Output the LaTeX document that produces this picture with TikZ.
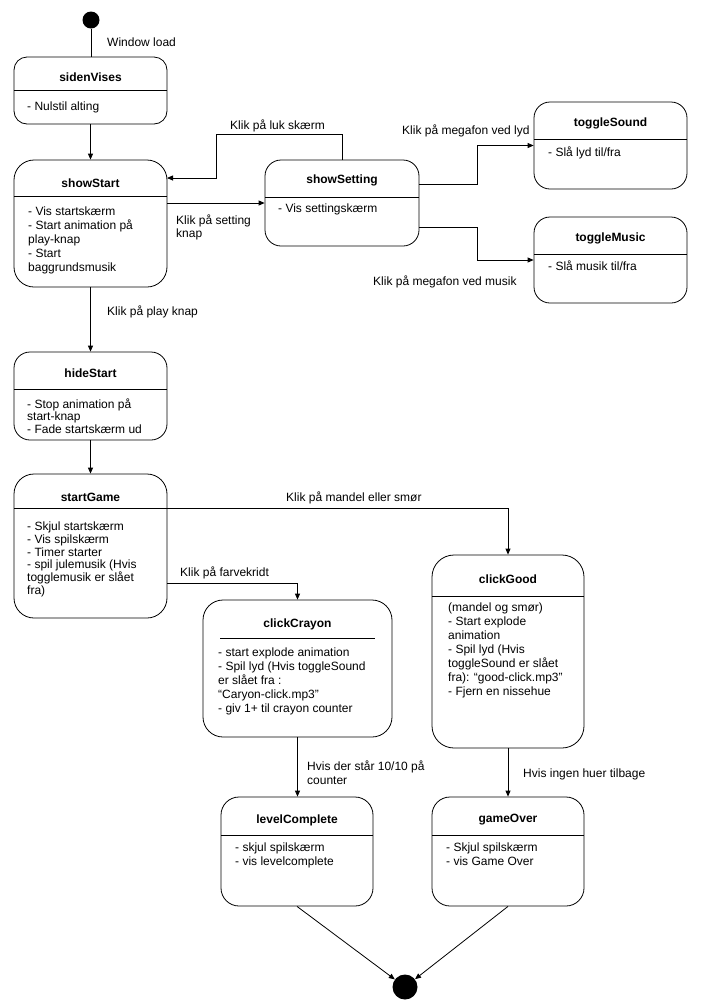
\documentclass[tikz,border=0pt]{standalone}
\usepackage{fontspec}
\setmainfont{Liberation Sans}
\usetikzlibrary{arrows.meta}
\begin{document}
\begin{tikzpicture}[x=1pt,y=-1pt,
  every node/.style={font=\fontsize{12}{14}\selectfont},
  box/.style={draw, line width=0.8pt, rounded corners=16pt, inner sep=0pt},
  ttl/.style={font=\fontsize{12}{14}\selectfont\bfseries, inner sep=0pt},
  bdy/.style={align=left, inner sep=0pt, anchor=north west},
  lbl/.style={inner sep=0pt, anchor=base west},
  mlbl/.style={inner sep=0pt, anchor=north west, align=left},
  arr/.style={line width=0.8pt, -{Triangle[length=6pt,width=5pt]}},
  ln/.style={line width=0.8pt},
  dot/.style={circle, fill=black, inner sep=0pt}]
\useasboundingbox (0,0) rectangle (703,1005);

% start dot
\node[dot, minimum size=17pt] (sd) at (91,20) {};

% sidenVises
\node[box, minimum width=153pt, minimum height=67pt, rounded corners=13pt] (sv) at (90.5,90.5) {};
\draw[ln] (14,90) -- (167,90);
\node[ttl] (svt) at (90.5,77) {sidenVises};
\node[bdy] (svb) at (27,101.5) {- Nulstil alting};

% showStart
\node[box, minimum width=153pt, minimum height=127pt, rounded corners=20pt] (ss) at (90.5,223.5) {};
\draw[ln] (14,196) -- (167,196);
\node[ttl] (sst) at (90.5,183) {showStart};
\node[bdy, font=\fontsize{12}{14}\selectfont] (ssb) at (28,206.5) {- Vis startskærm\\- Start animation på\\play-knap\\- Start\\baggrundsmusik};

% showSetting
\node[box, minimum width=154pt, minimum height=86pt] (st) at (342,203) {};
\draw[ln] (265,197) -- (419,197);
\node[ttl] (stt) at (342,180) {showSetting};
\node[bdy] (stb) at (278,203.5) {- Vis settingskærm};

% toggleSound
\node[box, minimum width=153pt, minimum height=87pt] (ts) at (610.5,145.5) {};
\draw[ln] (534,139) -- (687,139);
\node[ttl] (tst) at (610.5,123) {toggleSound};
\node[bdy] (tsb) at (548,146.5) {- Slå lyd til/fra};

% toggleMusic
\node[box, minimum width=153pt, minimum height=86pt] (tm) at (610.5,260) {};
\draw[ln] (534,254) -- (687,254);
\node[ttl] (tmt) at (610.5,238) {toggleMusic};
\node[bdy] (tmb) at (548,260.5) {- Slå musik til/fra};

% hideStart
\node[box, minimum width=153pt, minimum height=88pt] (hs) at (90.5,396) {};
\draw[ln] (14,389) -- (167,389);
\node[ttl] (hst) at (90.5,373) {hideStart};
\node[bdy, font=\fontsize{12}{12.4}\selectfont] (hsb) at (27,398.5) {- Stop animation på\\start-knap\\- Fade startskærm ud};

% startGame
\node[box, minimum width=153pt, minimum height=144pt, rounded corners=20pt] (sg) at (90.5,546) {};
\draw[ln] (14,508) -- (167,508);
\node[ttl] (sgt) at (90.5,497) {startGame};
\node[bdy, font=\fontsize{12}{12.8}\selectfont] (sgb) at (27,521.5) {- Skjul startskærm\\- Vis spilskærm\\- Timer starter\\- spil julemusik (Hvis\\togglemusik er slået\\fra)};

% clickCrayon
\node[box, minimum width=189pt, minimum height=137pt, rounded corners=20pt] (cc) at (297.5,668.5) {};
\draw[ln] (220,638) -- (375,638);
\node[ttl] (cct) at (297.5,624) {clickCrayon};
\node[bdy] (ccb) at (218,647.5) {- start explode animation\\- Spil lyd (Hvis toggleSound\\er slået fra :\\“Caryon-click.mp3”\\- giv 1+ til crayon counter};

% clickGood
\node[box, minimum width=152pt, minimum height=193pt, rounded corners=22pt] (cg) at (508,651.5) {};
\draw[ln] (432,596) -- (584,596);
\node[ttl] (cgt) at (508,579) {clickGood};
\node[bdy] (cgb) at (448,602.5) {(mandel og smør)\\- Start explode\\animation\\- Spil lyd (Hvis\\toggleSound er slået\\fra): “good-click.mp3”\\- Fjern en nissehue};

% levelComplete
\node[box, minimum width=152pt, minimum height=109pt, rounded corners=18pt] (lc) at (297,851.5) {};
\draw[ln] (221,835) -- (373,835);
\node[ttl] (lct) at (297,820) {levelComplete};
\node[bdy] (lcb) at (235,842.5) {- skjul spilskærm\\- vis levelcomplete};

% gameOver
\node[box, minimum width=152pt, minimum height=109pt, rounded corners=18pt] (go) at (508,851.5) {};
\draw[ln] (432,835) -- (584,835);
\node[ttl] (got) at (508,820) {gameOver};
\node[bdy] (gob) at (446,842.5) {- Skjul spilskærm\\- vis Game Over};

% end dot
\node[dot, minimum size=25pt] (ed) at (405,987) {};

% labels
\node[lbl] (l1) at (107,46) {Window load};
\node[lbl] (l2) at (230,129) {Klik på luk skærm};
\node[mlbl, font=\fontsize{12}{13}\selectfont] (l3) at (176,214.5) {Klik på setting\\knap};
\node[lbl] (l4) at (402,134) {Klik på megafon ved lyd};
\node[lbl] (l5) at (373,285) {Klik på megafon ved musik};
\node[lbl] (l6) at (107,315) {Klik på play knap};
\node[lbl] (l7) at (286,501) {Klik på mandel eller smør};
\node[lbl] (l8) at (180,576) {Klik på farvekridt};
\node[mlbl] (l9) at (307,760.5) {Hvis der står 10/10 på\\counter};
\node[lbl] (l10) at (523,777) {Hvis ingen huer tilbage};

% coordinates for connector ends
\coordinate (lukA) at (216,134);
\coordinate (ssIn) at (167,178);
\coordinate (st1) at (419,184);
\coordinate (st2) at (419,227);
\coordinate (sg1) at (167,508);
\coordinate (sg2) at (167,583);

% connectors
\draw[ln] (sd.south) -- (sd.south |- sv.north);
\draw[arr] (sv.south) -- (ss.north);
\draw[arr] (st.north) |- (lukA) |- (ssIn);
\draw[arr] (ss.east |- st.west) -- (st.west);
\draw[arr] (st1) -- ++(58,0) |- (ts.west);
\draw[arr] (st2) -- ++(58,0) |- (tm.west);
\draw[arr] (ss.south) -- (hs.north);
\draw[arr] (hs.south) -- (sg.north);
\draw[arr] (sg1) -| (cg.north);
\draw[arr] (sg2) -| (cc.north);
\draw[arr] (cc.south) -- (cc.south |- lc.north);
\draw[arr] (cg.south) -- (go.north);
\draw[arr] (lc.south) -- (ed);
\draw[arr] (go.south) -- (ed);
\end{tikzpicture}
\end{document}
